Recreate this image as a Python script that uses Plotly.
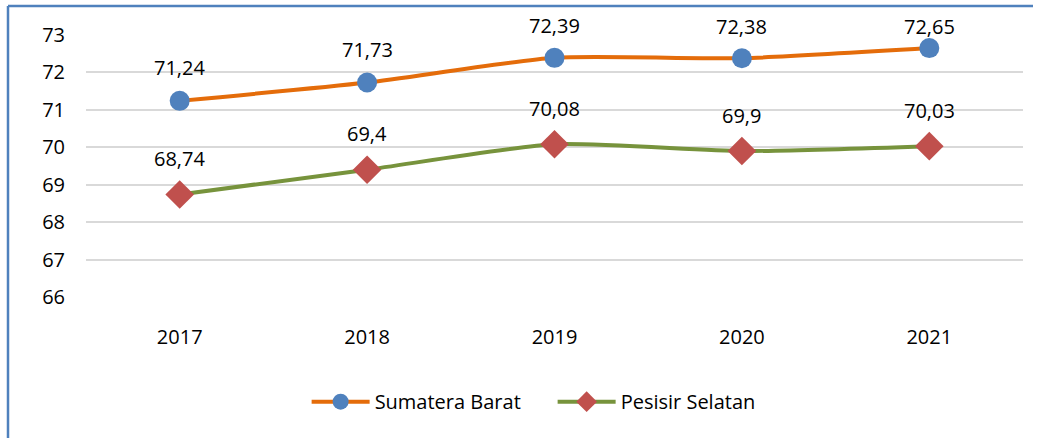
import plotly.graph_objects as go

years = ["2017", "2018", "2019", "2020", "2021"]
sumbar = [71.24, 71.73, 72.39, 72.38, 72.65]
pessel = [68.74, 69.40, 70.08, 69.90, 70.03]
y_ticks = [66, 67, 68, 69, 70, 71, 72, 73]
y_range = [66, 73]

FONT = "Open Sans"
W, H = 1043, 438
ML, MR, MT, MB = 86, 20, 35, 141

def fmt(v):
    return f"{v:g}".replace(".", ",")

fig = go.Figure()
fig.add_trace(go.Scatter(
    x=years, y=sumbar, name="Sumatera Barat", mode="lines+markers",
    line=dict(color="#E46C0A", width=4, shape="spline", smoothing=0.6),
    marker=dict(symbol="circle", size=20, color="#4F81BD"),
))
fig.add_trace(go.Scatter(
    x=years, y=pessel, name="Pesisir Selatan", mode="lines+markers",
    line=dict(color="#77933C", width=4, shape="spline", smoothing=0.6),
    marker=dict(symbol="diamond", size=22, color="#C0504D"),
))

pw = W - ML - MR
ph = H - MT - MB

anns = []
for series, base in ((sumbar, 33), (pessel, 36)):
    for i, v in enumerate(series):
        py = MT + (y_range[1] - v) / (y_range[1] - y_range[0]) * ph
        shift = min(base, py - 26)  # keep labels inside the chart area
        anns.append(dict(x=i, y=v, xref="x", yref="y", text=fmt(v), showarrow=False,
                         yshift=shift, font=dict(family=FONT, size=20, color="#000000")))

left = (8 - ML) / pw
top = 1 + (MT - 6) / ph
bottom = -(MB + 5) / ph
right = (1033 - ML) / pw

fig.update_layout(
    width=W, height=H,
    margin=dict(l=ML, r=MR, t=MT, b=MB, autoexpand=False),
    paper_bgcolor="white", plot_bgcolor="white",
    font=dict(family=FONT, size=20, color="#000000"),
    xaxis=dict(type="category", range=[-0.5, 4.5], showgrid=False, showline=False,
               ticks="outside", ticklen=22, tickcolor="rgba(0,0,0,0)",
               tickfont=dict(size=20), fixedrange=True),
    yaxis=dict(range=y_range, tickvals=y_ticks, showgrid=True, gridcolor="#D9D9D9",
               gridwidth=1.5, zeroline=False, showline=False, ticks="outside",
               ticklen=16, tickcolor="rgba(0,0,0,0)", tickfont=dict(size=20)),
    legend=dict(orientation="h", x=0.498, xanchor="center", y=-0.325, yanchor="top",
                font=dict(family=FONT, size=20), itemwidth=58, traceorder="normal",
                entrywidth=173, entrywidthmode="pixels"),
    annotations=anns,
    shapes=[
        dict(type="line", xref="paper", yref="paper", x0=left, x1=right, y0=top, y1=top,
             line=dict(color="#4F81BD", width=2.5)),
        dict(type="line", xref="paper", yref="paper", x0=left, x1=left, y0=top, y1=bottom,
             line=dict(color="#4F81BD", width=2.5)),
    ],
    showlegend=True,
)

fig.write_html("out.html", config={"displayModeBar": False},
               post_script="document.body.style.margin='0';document.body.style.overflow='hidden';")
